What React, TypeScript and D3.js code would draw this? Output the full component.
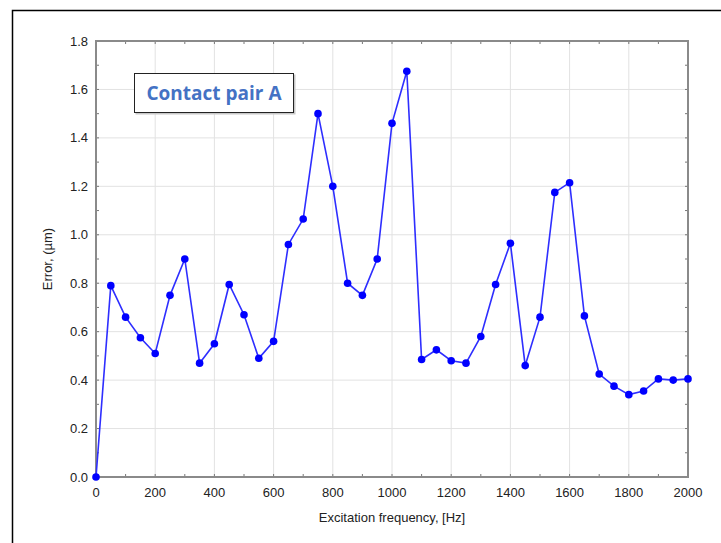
import React from "react";
import * as d3 from "d3";

// excitation frequency [Hz] and error [µm]
const freqs = [
  0, 50, 100, 150, 200, 250, 300, 350, 400, 450, 500, 550, 600, 650, 700, 750, 800, 850, 900, 950,
  1000, 1050, 1100, 1150, 1200, 1250, 1300, 1350, 1400, 1450, 1500, 1550, 1600, 1650, 1700, 1750,
  1800, 1850, 1900, 1950, 2000,
];
const errors = [
  0.0, 0.79, 0.66, 0.575, 0.51, 0.75, 0.9, 0.47, 0.55, 0.795, 0.67, 0.49, 0.56, 0.96, 1.065, 1.5,
  1.2, 0.8, 0.75, 0.9, 1.46, 1.675, 0.485, 0.525, 0.48, 0.47, 0.58, 0.795, 0.965, 0.46, 0.66,
  1.175, 1.215, 0.665, 0.425, 0.375, 0.34, 0.355, 0.405, 0.4, 0.405,
];
const xTicks = [0, 200, 400, 600, 800, 1000, 1200, 1400, 1600, 1800, 2000];
const yTicks = [0, 0.2, 0.4, 0.6, 0.8, 1.0, 1.2, 1.4, 1.6, 1.8];
const legendLabel = "Contact pair A";

const W = 721;
const H = 543;
const plot = { left: 96, top: 41, right: 688, bottom: 477 };

export default function App() {
  const x = d3.scaleLinear().domain([0, 2000]).range([plot.left, plot.right]);
  const y = d3.scaleLinear().domain([0, 1.8]).range([plot.bottom, plot.top]);
  const data = freqs.map((f, i) => ({ f, e: errors[i] }));

  const line = d3
    .line<{ f: number; e: number }>()
    .x((d) => x(d.f))
    .y((d) => y(d.e));

  const xMinor = d3.range(0, 2001, 100);
  const yMinor = d3.range(0, 18.01, 1).map((v) => v / 10);
  const tickFont = "'Liberation Sans', Arial, sans-serif";

  return (
    <svg
      width={W}
      height={H}
      style={{ position: "absolute", left: 0, top: 0, background: "#fff" }}
    >
      <rect x={12.5} y={10.5} width={W} height={H} fill="#fff" stroke="#000" strokeWidth={1.5} />

      {/* grid */}
      {xTicks.map((t) => (
        <line key={"gx" + t} x1={x(t)} x2={x(t)} y1={plot.top} y2={plot.bottom} stroke="#e2e2e2" strokeWidth={1} />
      ))}
      {yTicks.map((t) => (
        <line key={"gy" + t} x1={plot.left} x2={plot.right} y1={y(t)} y2={y(t)} stroke="#e2e2e2" strokeWidth={1} />
      ))}

      {/* inward ticks */}
      {xMinor.map((t) => (
        <g key={"tx" + t} stroke="#777" strokeWidth={1}>
          <line x1={x(t)} x2={x(t)} y1={plot.top} y2={plot.top + 3} />
          <line x1={x(t)} x2={x(t)} y1={plot.bottom} y2={plot.bottom - 3} />
        </g>
      ))}
      {yMinor.map((t) => (
        <g key={"ty" + t} stroke="#777" strokeWidth={1}>
          <line x1={plot.left} x2={plot.left + 3} y1={y(t)} y2={y(t)} />
          <line x1={plot.right} x2={plot.right - 3} y1={y(t)} y2={y(t)} />
        </g>
      ))}

      {/* frame */}
      <rect
        x={plot.left}
        y={plot.top}
        width={plot.right - plot.left}
        height={plot.bottom - plot.top}
        fill="none"
        stroke="#8a8a8a"
        strokeWidth={2}
      />

      {/* tick labels */}
      {xTicks.map((t) => (
        <text key={"lx" + t} x={x(t)} y={plot.bottom + 20} textAnchor="middle" fontFamily={tickFont} fontSize={13} fill="#222">
          {t}
        </text>
      ))}
      {yTicks.map((t) => (
        <text key={"ly" + t} x={plot.left - 8} y={y(t) + 4.5} textAnchor="end" fontFamily={tickFont} fontSize={13} fill="#222">
          {t.toFixed(1)}
        </text>
      ))}

      {/* axis titles */}
      <text x={(plot.left + plot.right) / 2} y={522} textAnchor="middle" fontFamily={tickFont} fontSize={13} fill="#222">
        Excitation frequency, [Hz]
      </text>
      <text
        transform={`translate(52,${(plot.top + plot.bottom) / 2}) rotate(-90)`}
        textAnchor="middle"
        fontFamily={tickFont}
        fontSize={13}
        fill="#222"
      >
        Error, (µm)
      </text>

      {/* series */}
      <path d={line(data) ?? ""} fill="none" stroke="#2e2eff" strokeWidth={1.6} />
      {data.map((d) => (
        <circle key={"p" + d.f} cx={x(d.f)} cy={y(d.e)} r={3.8} fill="#0000ff" />
      ))}

      {/* legend */}
      <rect x={135.5} y={74.5} width={160} height={40} fill="#c8c8c8" />
      <rect x={134.5} y={73.5} width={159} height={39} fill="#fff" stroke="#222" strokeWidth={1} />
      <text x={214} y={100} textAnchor="middle" fontFamily="'Open Sans', Lato, sans-serif" fontWeight={700} fontSize={19} fill="#4472c4">
        {legendLabel}
      </text>
    </svg>
  );
}
